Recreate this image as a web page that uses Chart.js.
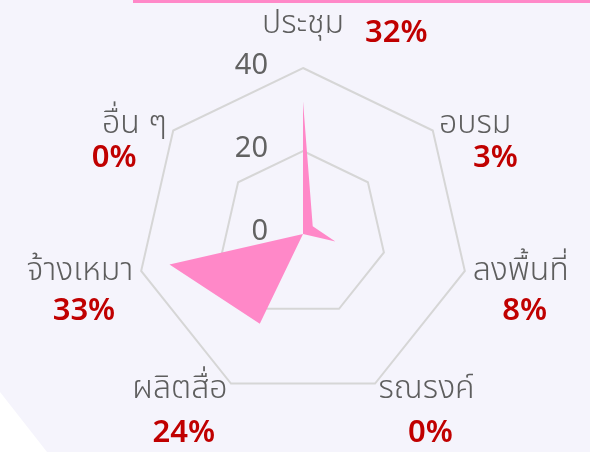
<!DOCTYPE html>
<html>
<head>
<meta charset="utf-8">
<script src="https://cdn.jsdelivr.net/npm/chart.js@4"></script>
<style>
  html, body { margin: 0; padding: 0; }
  body { width: 590px; height: 452px; background: #f5f4fc; position: relative; overflow: hidden; }
  .corner { position: absolute; left: 0; top: 0; width: 590px; height: 452px; background: #ffffff;
    clip-path: polygon(0 392px, 47px 452px, 0 452px); }
  .topline { position: absolute; left: 133px; top: 0; width: 457px; height: 3px; background: #ff88c8; }
  .wrap { position: absolute; left: 0; top: 0; width: 590px; height: 452px; }
</style>
</head>
<body>
<div class="corner"></div>
<div class="topline"></div>
<div class="wrap"><canvas id="chart"></canvas></div>
<script>
// Categories and share of budget (percent)
const categories = ['ประชุม', 'อบรม', 'ลงพื้นที่', 'รณรงค์', 'ผลิตสื่อ', 'จ้างเหมา', 'อื่น ๆ'];
const shares = [32, 3, 8, 0, 24, 33, 0];
const tickValues = [0, 20, 40];

const fontFamily = "'Noto Sans Thai', 'Noto Sans', sans-serif";

// Draws the tick numbers to the left of the top axis
const tickLabelsPlugin = {
  id: 'tickLabels',
  afterDraw(chart) {
    const scale = chart.scales.r;
    const ctx = chart.ctx;
    ctx.save();
    ctx.font = '29px ' + fontFamily;
    ctx.fillStyle = '#626262';
    ctx.textAlign = 'right';
    ctx.textBaseline = 'middle';
    tickValues.forEach(function(v) {
      const y = scale.yCenter - scale.getDistanceFromCenterForValue(v);
      ctx.fillText(String(v), scale.xCenter - 35, y);
    });
    ctx.restore();
  }
};

// Draws category names in gray and the percentages in red
const categoryLabelsPlugin = {
  id: 'categoryLabels',
  afterDraw(chart) {
    const scale = chart.scales.r;
    const ctx = chart.ctx;
    ctx.save();
    ctx.textBaseline = 'alphabetic';
    categories.forEach(function(name, i) {
      const p = scale.getPointPosition(i, scale.drawingArea + 8);
      const dirX = (p.x - scale.xCenter) / (scale.drawingArea + 8);
      const dirY = (p.y - scale.yCenter) / (scale.drawingArea + 8);
      const pct = shares[i] + '%';

      ctx.font = '300 32px ' + fontFamily;
      const nameW = ctx.measureText(name).width;
      let nameLeft;
      if (Math.abs(dirX) < 0.01) {
        // top label: name centred, percentage to the right
        nameLeft = p.x - nameW / 2;
        ctx.fillStyle = '#5e5e5e';
        ctx.textAlign = 'left';
        ctx.fillText(name, nameLeft, p.y - 27);
        ctx.font = '600 31px ' + fontFamily;
        ctx.fillStyle = '#c00000';
        ctx.fillText(pct, nameLeft + nameW + 21, p.y - 18);
        return;
      }
      nameLeft = dirX > 0 ? p.x : p.x - nameW;
      const baseY = p.y + 7.5;
      ctx.fillStyle = '#5e5e5e';
      ctx.textAlign = 'left';
      ctx.fillText(name, nameLeft, baseY);

      // upper labels have their percentage pushed outward a little
      const shift = dirY < 0 ? 26 * dirX : 4;
      ctx.font = '600 31px ' + fontFamily;
      ctx.fillStyle = '#c00000';
      ctx.textAlign = 'center';
      ctx.fillText(pct, nameLeft + nameW / 2 + shift, baseY + 38 + 6.5 * dirY);
    });
    ctx.restore();
  }
};

const ctx = document.getElementById('chart').getContext('2d');
const chart = new Chart(ctx, {
  type: 'radar',
  data: {
    labels: categories,
    datasets: [{
      label: 'สัดส่วน',
      data: shares,
      backgroundColor: '#ff88c8',
      borderWidth: 0,
      pointRadius: 0,
      fill: true
    }]
  },
  options: {
    responsive: true,
    maintainAspectRatio: false,
    animation: false,
    layout: { padding: { left: 137, right: 121, top: 68, bottom: 52 } },
    plugins: {
      legend: { display: false },
      tooltip: { enabled: false }
    },
    scales: {
      r: {
        min: 0,
        max: 40,
        ticks: { stepSize: 20, display: false },
        grid: { circular: false, color: '#d6d6d6', lineWidth: 2 },
        angleLines: { display: false },
        pointLabels: { display: false }
      }
    }
  },
  plugins: [tickLabelsPlugin, categoryLabelsPlugin]
});
</script>
</body>
</html>
